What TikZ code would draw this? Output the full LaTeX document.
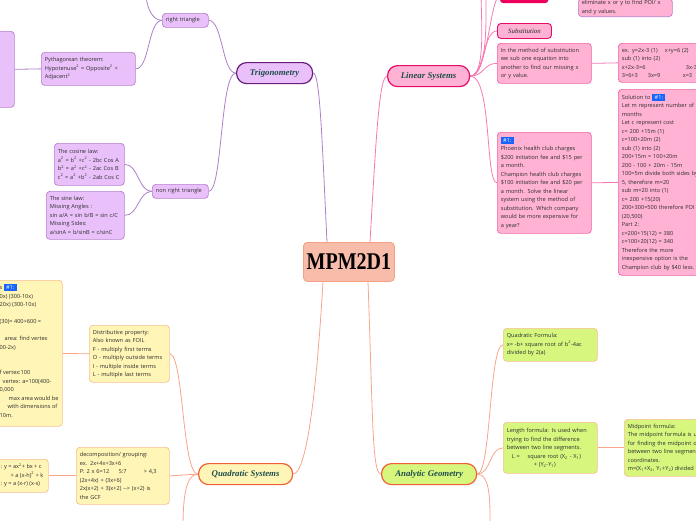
\documentclass[tikz,border=0pt]{standalone}
\usepackage{fontspec}
\setmainfont{Liberation Serif}
\newfontfamily\bodyfont{Open Sans}
\usetikzlibrary{calc}
\pgfdeclarelayer{bg}
\pgfsetlayers{bg,main}
\definecolor{purfill}{RGB}{233,192,250}
\definecolor{purdraw}{RGB}{182,128,205}
\definecolor{purdark}{RGB}{105,30,125}
\definecolor{purline}{RGB}{172,128,198}
\definecolor{pinkfill}{RGB}{255,178,212}
\definecolor{pinkdraw}{RGB}{242,100,160}
\definecolor{pinkdark}{RGB}{232,10,105}
\definecolor{pinkline}{RGB}{246,122,178}
\definecolor{redbox}{RGB}{236,0,92}
\definecolor{yelfill}{RGB}{255,245,182}
\definecolor{yeldraw}{RGB}{250,190,145}
\definecolor{orgdark}{RGB}{240,95,55}
\definecolor{orgline}{RGB}{248,165,138}
\definecolor{grnfill}{RGB}{214,246,126}
\definecolor{mpmfill}{RGB}{248,188,170}
\definecolor{mpmdraw}{RGB}{245,160,128}
\definecolor{topictext}{RGB}{30,77,75}
\definecolor{bodytext}{RGB}{45,45,45}
\definecolor{badgeblue}{RGB}{25,100,250}
\newcommand{\badge}{{\setlength{\fboxsep}{1.3pt}\colorbox{badgeblue}{\,\textcolor{white}{\#1:}\,}}}
\tikzset{
  box/.style={draw, rounded corners=3.5pt, line width=0.7pt, anchor=north west, align=left,
    inner xsep=3.5pt, inner ysep=2pt, font=\bodyfont\fontsize{5.6}{8.5}\selectfont, text=bodytext},
  pbox/.style={box, fill=purfill, draw=purdraw},
  kbox/.style={box, fill=pinkfill, draw=pinkdraw},
  ybox/.style={box, fill=yelfill, draw=yeldraw},
  gbox/.style={box, fill=grnfill, draw=yeldraw},
  topic/.style={draw, rounded corners=10pt, line width=1.2pt, anchor=north west, inner sep=0pt,
    font=\bfseries\itshape\fontsize{8.8}{10}\selectfont, text=topictext},
  frag/.style={anchor=north west, align=left, inner sep=0pt, font=\bodyfont\fontsize{5.6}{8.5}\selectfont, text=bodytext},
  pline/.style={draw=purline, line width=0.8pt},
  kline/.style={draw=pinkline, line width=0.8pt},
  oline/.style={draw=orgline, line width=0.8pt}
}
\begin{document}
\begin{tikzpicture}[x=1pt,y=-1pt]
\useasboundingbox (0,0) rectangle (696,520);
% ---------- Trigonometry (purple) ----------
\node[pbox, minimum width=54, minimum height=76] (lefttrig) at (-40,31) {};
\node[pbox, text width=87, minimum height=33] (pyth) at (41,52) {Pythagorean theorem:\\Hypotenuse\textsuperscript{2} = Opposite\textsuperscript{2} +\\Adjacent\textsuperscript{2}};
\node[pbox, text width=39, minimum height=14] (righttri) at (162,13) {right triangle};
\node[pbox, text width=63, minimum height=42] (cosine) at (54,143) {The cosine law:\\a\textsuperscript{2} = b\textsuperscript{2} +c\textsuperscript{2} - 2bc Cos A\\b\textsuperscript{2} = a\textsuperscript{2} +c\textsuperscript{2} - 2ac Cos B\\c\textsuperscript{2} = a\textsuperscript{2} +b\textsuperscript{2} - 2ab Cos C};
\node[pbox, text width=71, minimum height=48] (sine) at (46,191) {The sine law:\\Missing Angles :\\sin a/A = sin b/B = sin c/C\\Missing Sides:\\a/sinA = b/sinB = c/sinC};
\node[pbox, text width=49, minimum height=14] (nonright) at (152,184) {non right triangle};
\node[topic, fill=purfill, draw=purdark, minimum width=76, minimum height=21] (trig) at (236,62) {Trigonometry};
\coordinate (rtup) at (146,-8);
% ---------- Linear Systems (pink) ----------
\node[draw=redbox, fill=redbox, rounded corners=3pt, minimum width=48, minimum height=14, anchor=south west, inner sep=0pt] (elimtopic) at (500,3) {};
\node[kbox, draw=purdraw, text width=87, anchor=south west] (elim) at (578,17) {eliminate x or y to find POI/ x\\and y values.};
\node[kbox, draw=pinkdark, line width=0.9pt, minimum width=54, minimum height=15, align=center, font=\itshape\fontsize{6.8}{8}\selectfont, text=black!85] (subst) at (497,23) {Substitution};
\node[kbox, text width=87, minimum height=40] (method) at (497,43) {In the method of substitution\\we sub one equation into\\another to find our missing x\\or y value.};
\node[kbox, text width=103, minimum height=39] (exbox) at (618,43) {\makebox[43pt][l]{ex. y=2x-3 (1)}x+y=6 (2)\\sub (1) into (2)\\\makebox[64pt][l]{x+2x-3=6}3x-3\\\makebox[26pt][l]{3=6+3}\makebox[35pt][l]{3x=9}x=3};
\node[kbox, text width=87, minimum height=101] (phoenix) at (497,132) {\badge\\Phoenix health club charges\\\$200 initiation fee and \$15 per\\a month.\\Champion health club charges\\\$100 initiation fee and \$20 per\\a month. Solve the linear\\system using the method of\\substitution. Which company\\would be more expensive for\\a year?};
\node[kbox, text width=103, minimum height=186] (solution) at (618,89) {Solution to \badge\\Let m represent number of\\months\\Let c represent cost\\c= 200 +15m (1)\\c=100+20m (2)\\sub (1) into (2)\\200+15m = 100+20m\\200 - 100 + 20m - 15m\\100=5m divide both sides by\\5, therefore m=20\\sub m=20 into (1)\\c= 200 +15(20)\\200+300=500 therefore POI\\(20,500)\\Part 2:\\c=200+15(12) = 380\\c=100+20(12) = 340\\Therefore the more\\inexpensive option is the\\Champion club by \$40 less.};
\node[topic, fill=pinkfill, draw=pinkdark, minimum width=82, minimum height=21] (linear) at (387,65) {Linear Systems};
\coordinate (lsup1) at (481,-8);
\coordinate (lsup2) at (486,-8);
% ---------- Centre ----------
\node[draw=mpmdraw, fill=mpmfill, rounded corners=4pt, line width=0.8pt, anchor=north west, minimum width=91, minimum height=39, inner sep=0pt, font=\bfseries\fontsize{20}{20}\selectfont] (mpm) at (303,242) {\scalebox{1}[1.2]{MPM2D1}};
% ---------- Quadratic Systems (yellow) ----------
\node[ybox, minimum width=122, minimum height=146] (bigleft) at (-60,280) {};
\node[frag] (bigtext) at (-0.5,284) {s \badge\\0x) (300-10x)\\20x) (300-10x)\\[8.5pt](30)= 400+600 =\\[8.5pt]\hspace{5pt}area: find vertex\\00-2x)\\[17pt]f vertex:100\\\hspace{3pt}vertex: a=100(400-\\0,000\\\hspace{9pt}max area would be\\\hspace{8pt}with dimensions of\\10m.};
\node[ybox, text width=73, minimum height=57] (distrib) at (89,325) {Distributive property:\\Also known as FOIL\\F - multiply first terms\\O - multiply outside terms\\I - multiple inside terms\\L - multiple last terms};
\node[ybox, text width=86, minimum height=57] (decomp) at (76,447) {decomposition/ grouping:\\ex. 2x+4x+3x+6\\\makebox[39pt][l]{P: 2 x 6=12}\makebox[25pt][l]{S:7}> 4,3\\(2x+4x) + (3x+6)\\2x(x+2) + 3(x+2) {-}{-}> (x+2) is\\the GCF};
\node[ybox, minimum width=108, minimum height=33] (formsbox) at (-60,459) {};
\node[frag] (formstext) at (0.5,463) {: y = ax\textsuperscript{2}+ bx + c\\\hspace{10pt}+ a (x-h)\textsuperscript{2} + k\\: y = a (x-r) (x-s)};
\node[topic, fill=yelfill, draw=orgdark, minimum width=94, minimum height=21] (quad) at (198,463) {Quadratic Systems};
\coordinate (quaddown) at (183,530);
% ---------- Analytic Geometry (green) ----------
\node[gbox, text width=87, minimum height=33] (qformula) at (503,328) {Quadratic Formula:\\x= -b+ square root of b\textsuperscript{2}-4ac\\divided by 2(a)};
\node[gbox, text width=87, minimum height=51] (length) at (503,422) {Length formula: Is used when\\trying to find the difference\\between two line segments.\\\hspace{5pt}L = \hspace{6pt}square root (X\textsubscript{2} - X\textsubscript{1})\\\hspace{27pt}+ (Y\textsubscript{2}-Y\textsubscript{1})};
\node[gbox, text width=120, minimum height=57] (midpoint) at (624,419) {Midpoint formula:\\The midpoint formula is used\\for finding the midpoint of\\between two line segments\\coordinates.\\m=(X\textsubscript{1}+X\textsubscript{2}, Y\textsubscript{1}+Y\textsubscript{2}) divided by 2};
\node[topic, fill=grnfill, draw=orgdark, minimum width=95, minimum height=21] (analytic) at (381,463) {Analytic Geometry};
\coordinate (anadown) at (490,530);
% ---------- connectors ----------
\coordinate (mpmA) at ($(mpm.north west)+(24,0)$);
\coordinate (mpmB) at ($(mpm.north west)+(67,0)$);
\coordinate (mpmC) at ($(mpm.south west)+(20,0)$);
\coordinate (mpmD) at ($(mpm.south west)+(65,0)$);
\begin{pgfonlayer}{bg}
\path[pline] (trig.east) .. controls (320,73) and (322,140) .. (mpmA);
\path[pline] (trig.west) .. controls +(-14,0) and +(14,0) .. (righttri.east);
\path[pline] (trig.west) .. controls +(-16,0) and +(14,0) .. (nonright.east);
\path[pline] (righttri.west) .. controls +(-14,0) and +(14,0) .. (pyth.east);
\path[pline] (righttri.west) .. controls +(-10,0) and +(0,15) .. (rtup);
\path[pline] (pyth.west) -- (lefttrig.east);
\path[pline] (nonright.west) .. controls +(-14,0) and +(14,0) .. (cosine.east);
\path[pline] (nonright.west) .. controls +(-14,0) and +(14,0) .. (sine.east);
\path[kline] (linear.west) .. controls (379,77) and (376,140) .. (mpmB);
\path[kline] (linear.east) .. controls +(16,0) and +(0,25) .. (lsup1);
\path[kline] (linear.east) .. controls +(18,0) and +(0,25) .. (lsup2);
\path[kline] (linear.east) .. controls +(18,0) and +(-10,0) .. (elimtopic.west);
\path[kline] (linear.east) .. controls +(14,0) and +(-14,0) .. (subst.west);
\path[kline] (linear.east) .. controls +(14,0) and +(-14,0) .. (method.west);
\path[kline] (linear.east) .. controls +(22,0) and +(-12,0) .. (phoenix.west);
\path[kline] (method.east) -- (exbox.west);
\path[kline] (phoenix.east) -- (solution.west);
\path[oline] (mpmC) .. controls (316,400) and (306,473) .. (quad.east);
\path[oline] (mpmD) .. controls (373,420) and (372,473) .. (analytic.west);
\path[oline] (quad.west) .. controls +(-14,0) and +(14,0) .. (decomp.east);
\path[oline] (quad.west) .. controls +(-16,0) and +(14,0) .. (distrib.east);
\path[oline] (quad.west) .. controls +(-14,0) and +(0,-25) .. (quaddown);
\path[oline] (distrib.west) -- (bigleft.east);
\path[oline] (decomp.west) -- (formsbox.east);
\path[oline] (analytic.east) .. controls +(14,0) and +(-14,0) .. (qformula.west);
\path[oline] (analytic.east) .. controls +(14,0) and +(-14,0) .. (length.west);
\path[oline] (analytic.east) .. controls +(14,0) and +(0,-25) .. (anadown);
\path[oline] (length.east) -- (midpoint.west);
\end{pgfonlayer}
\end{tikzpicture}
\end{document}
